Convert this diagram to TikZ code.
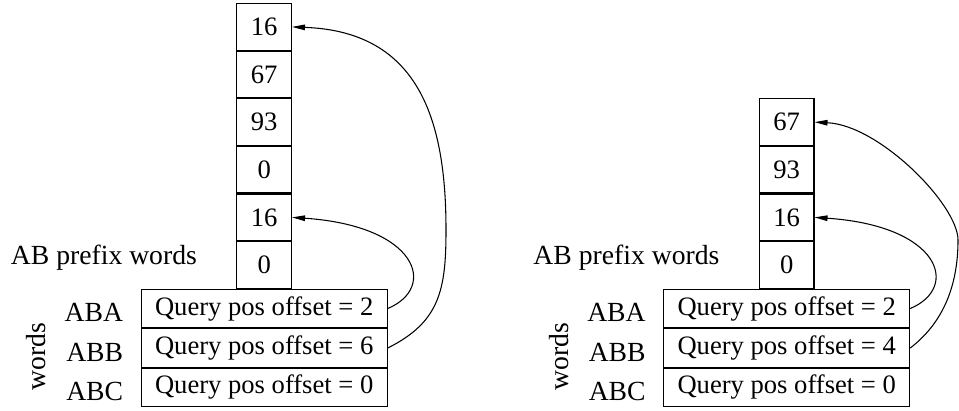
\documentclass[tikz,border=0pt]{standalone}
\usepackage{fontspec}
\setmainfont{Liberation Serif}
\usetikzlibrary{positioning,arrows.meta}
\tikzset{
  cell/.style={draw,minimum width=20.5pt,minimum height=17.5pt,inner sep=0pt},
  query/.style={draw,minimum width=92.5pt,minimum height=14.45pt,inner sep=0pt},
  tag/.style={font=\fontsize{10.4}{12}\selectfont,inner sep=0pt},
  pointer/.style={-{Triangle[length=4.9pt,width=2.1pt]}},
}
\begin{document}
\begin{tikzpicture}[x=0.376pt,y=-0.376pt,font=\fontsize{10}{12}\selectfont]
\useasboundingbox (0,0) rectangle (959,410);
% left: query table with six prefix words above it
\node[query] (lq1) at (264.2,308.5) {Query pos offset = 2};
\node[query,below=0pt of lq1] (lq2) {Query pos offset = 6};
\node[query,below=0pt of lq2] (lq3) {Query pos offset = 0};
\node[cell,above=0pt of lq1] (lc1) {0};
\foreach \v [count=\i from 2,remember=\i as \j (initially 1)] in {16,0,93,67,16}
  \node[cell,above=0pt of lc\j] (lc\i) {\v};
\foreach \w [count=\i] in {ABA,ABB,ABC}
  \node[tag,anchor=base east] (lw\i) at ([shift={(-17,13)}]lq\i.west) {\w};
\node[tag,anchor=base east] (lp) at ([shift={(-39,0)}]lc1.west) {AB prefix words};
\node[tag,rotate=90,anchor=base] (lv) at ([shift={(-95,8.5)}]lq2.west) {words};
\draw[pointer] (lq1.east) .. controls +(50,-21) and +(126,8.5) .. (lc2.east);
\draw[pointer] (lq2.east) .. controls +(52,-26) and +(0,60) .. (446,230)
  .. controls +(0,-110) and +(127,4.5) .. (lc6.east);
% right: same table, four prefix words
\node[query] (rq1) at (786.7,308.5) {Query pos offset = 2};
\node[query,below=0pt of rq1] (rq2) {Query pos offset = 4};
\node[query,below=0pt of rq2] (rq3) {Query pos offset = 0};
\node[cell,above=0pt of rq1] (rc1) {0};
\foreach \v [count=\i from 2,remember=\i as \j (initially 1)] in {16,93,67}
  \node[cell,above=0pt of rc\j] (rc\i) {\v};
\foreach \w [count=\i] in {ABA,ABB,ABC}
  \node[tag,anchor=base east] (rw\i) at ([shift={(-17,13)}]rq\i.west) {\w};
\node[tag,anchor=base east] (rp) at ([shift={(-39,0)}]rc1.west) {AB prefix words};
\node[tag,rotate=90,anchor=base] (rv) at ([shift={(-95,8.5)}]rq2.west) {words};
\draw[pointer] (rq1.east) .. controls +(50,-21) and +(126,8.5) .. (rc2.east);
\draw[pointer] (rq2.east) .. controls +(30,-23) and +(0,50) .. (958,240)
  .. controls +(0,-35) and +(65,3) .. (rc4.east);
\end{tikzpicture}
\end{document}
